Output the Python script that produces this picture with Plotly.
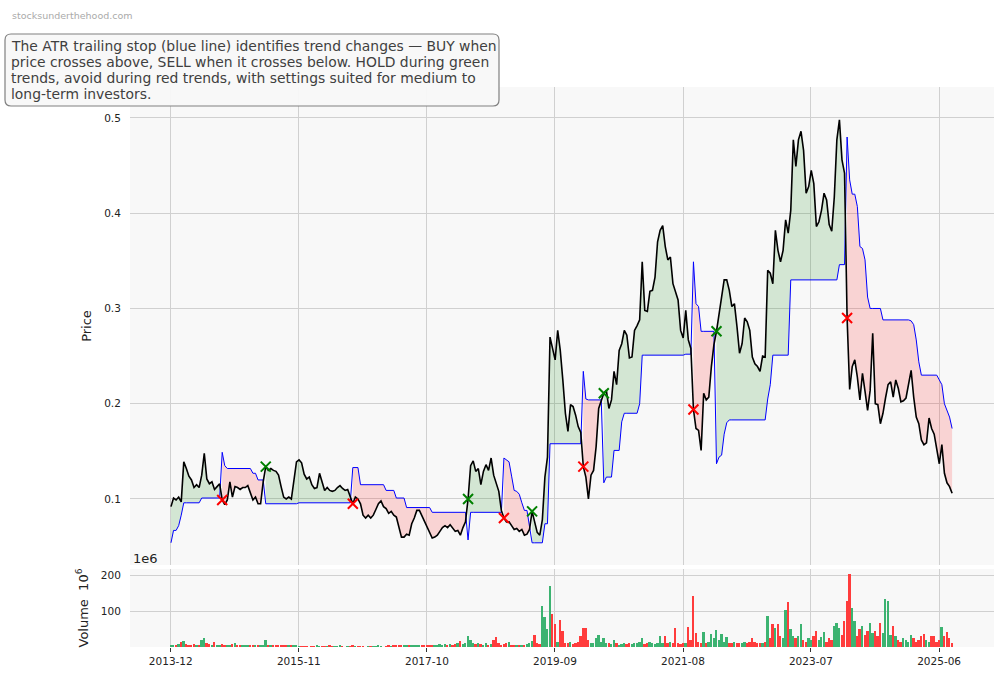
import pandas as pd
import plotly.graph_objects as go

# ---------------- data (bi-weekly closes) ----------------
start_date = "2013-12-02"
step = "14D"

price = [
    0.092, 0.101, 0.099, 0.102, 0.097, 0.139, 0.132, 0.124, 0.120, 0.112,
    0.115, 0.112, 0.125, 0.148, 0.121, 0.116, 0.118, 0.110, 0.113, 0.116,
    0.099, 0.094, 0.099, 0.118, 0.102, 0.113, 0.112, 0.110, 0.112, 0.112,
    0.114, 0.107, 0.099, 0.102, 0.095, 0.095, 0.118, 0.134, 0.130, 0.132,
    0.130, 0.129, 0.125, 0.113, 0.102, 0.100, 0.102, 0.100, 0.120, 0.139,
    0.141, 0.138, 0.126, 0.121, 0.123, 0.115, 0.111, 0.112, 0.127, 0.117,
    0.109, 0.112, 0.109, 0.108, 0.109, 0.112, 0.114, 0.111, 0.109, 0.110,
    0.102, 0.095, 0.102, 0.100, 0.095, 0.083, 0.080, 0.083, 0.080, 0.083,
    0.089, 0.095, 0.098, 0.092, 0.090, 0.085, 0.087, 0.083, 0.081, 0.071,
    0.060, 0.060, 0.063, 0.062, 0.074, 0.080, 0.088, 0.088, 0.082, 0.077,
    0.071, 0.064, 0.059, 0.060, 0.062, 0.066, 0.070, 0.072, 0.070, 0.073,
    0.069, 0.066, 0.067, 0.062, 0.070, 0.076, 0.100, 0.135, 0.140, 0.129,
    0.132, 0.115, 0.129, 0.136, 0.130, 0.143, 0.125, 0.115, 0.108, 0.088,
    0.080, 0.076, 0.076, 0.072, 0.068, 0.069, 0.066, 0.068, 0.062, 0.063,
    0.068, 0.087, 0.075, 0.065, 0.062, 0.078, 0.123, 0.144, 0.270, 0.258,
    0.246, 0.277, 0.256, 0.225, 0.190, 0.171, 0.199, 0.197, 0.188, 0.176,
    0.170, 0.134, 0.123, 0.100, 0.125, 0.130, 0.155, 0.195, 0.202, 0.211,
    0.214, 0.195, 0.204, 0.234, 0.220, 0.256, 0.263, 0.277, 0.272, 0.248,
    0.249, 0.277, 0.282, 0.288, 0.349, 0.298, 0.297, 0.318, 0.319, 0.333,
    0.370, 0.382, 0.387, 0.365, 0.351, 0.354, 0.326, 0.318, 0.309, 0.277,
    0.269, 0.298, 0.267, 0.258, 0.194, 0.174, 0.172, 0.151, 0.211, 0.204,
    0.207, 0.239, 0.262, 0.276, 0.295, 0.309, 0.330, 0.330, 0.319, 0.302,
    0.305, 0.281, 0.253, 0.263, 0.290, 0.286, 0.277, 0.249, 0.242, 0.239,
    0.234, 0.250, 0.249, 0.340, 0.337, 0.326, 0.382, 0.361, 0.349, 0.361,
    0.393, 0.379, 0.403, 0.477, 0.449, 0.477, 0.486, 0.466, 0.421, 0.428,
    0.445, 0.431, 0.386, 0.391, 0.403, 0.421, 0.414, 0.388, 0.381, 0.417,
    0.477, 0.498, 0.456, 0.442, 0.290, 0.215, 0.239, 0.246, 0.228, 0.204,
    0.232, 0.213, 0.193, 0.214, 0.274, 0.200, 0.199, 0.179, 0.190, 0.206,
    0.220, 0.223, 0.207, 0.225, 0.216, 0.202, 0.203, 0.206, 0.220, 0.235,
    0.207, 0.186, 0.179, 0.162, 0.157, 0.159, 0.185, 0.174, 0.168, 0.153,
    0.137, 0.157, 0.127, 0.117, 0.113, 0.106,
]

atr_stop = [
    0.054, 0.067, 0.067, 0.072, 0.083, 0.096, 0.096, 0.096, 0.096, 0.096,
    0.096, 0.096, 0.101, 0.101, 0.101, 0.101, 0.101, 0.101, 0.101, 0.101,
    0.149, 0.135, 0.132, 0.132, 0.132, 0.132, 0.132, 0.132, 0.132, 0.132,
    0.132, 0.132, 0.127, 0.127, 0.120, 0.120, 0.120, 0.095, 0.095, 0.095,
    0.095, 0.095, 0.095, 0.095, 0.095, 0.095, 0.095, 0.095, 0.095, 0.095,
    0.096, 0.096, 0.096, 0.096, 0.096, 0.096, 0.096, 0.096, 0.096, 0.096,
    0.096, 0.096, 0.096, 0.096, 0.096, 0.096, 0.096, 0.096, 0.096, 0.096,
    0.096, 0.133, 0.133, 0.133, 0.115, 0.115, 0.115, 0.115, 0.115, 0.115,
    0.115, 0.115, 0.115, 0.115, 0.109, 0.109, 0.109, 0.109, 0.101, 0.101,
    0.101, 0.101, 0.091, 0.091, 0.091, 0.091, 0.091, 0.091, 0.091, 0.091,
    0.091, 0.091, 0.086, 0.086, 0.086, 0.086, 0.086, 0.086, 0.086, 0.086,
    0.086, 0.086, 0.086, 0.086, 0.086, 0.086, 0.057, 0.086, 0.086, 0.086,
    0.086, 0.086, 0.086, 0.086, 0.086, 0.086, 0.086, 0.086, 0.086, 0.086,
    0.143, 0.141, 0.139, 0.124, 0.109, 0.108, 0.105, 0.096, 0.088, 0.088,
    0.071, 0.054, 0.054, 0.054, 0.054, 0.054, 0.074, 0.074, 0.158, 0.158,
    0.158, 0.158, 0.158, 0.158, 0.158, 0.158, 0.158, 0.158, 0.158, 0.158,
    0.158, 0.234, 0.205, 0.204, 0.204, 0.204, 0.204, 0.204, 0.204, 0.117,
    0.123, 0.123, 0.123, 0.151, 0.151, 0.151, 0.181, 0.190, 0.190, 0.190,
    0.190, 0.190, 0.190, 0.200, 0.251, 0.251, 0.251, 0.251, 0.251, 0.251,
    0.251, 0.251, 0.251, 0.251, 0.251, 0.251, 0.251, 0.251, 0.251, 0.251,
    0.251, 0.252, 0.252, 0.252, 0.349, 0.305, 0.302, 0.276, 0.276, 0.276,
    0.276, 0.276, 0.276, 0.137, 0.144, 0.146, 0.168, 0.180, 0.183, 0.183,
    0.183, 0.183, 0.183, 0.183, 0.183, 0.183, 0.183, 0.183, 0.183, 0.183,
    0.183, 0.183, 0.183, 0.205, 0.220, 0.251, 0.251, 0.251, 0.251, 0.251,
    0.251, 0.251, 0.330, 0.330, 0.330, 0.330, 0.330, 0.330, 0.330, 0.330,
    0.330, 0.330, 0.330, 0.330, 0.330, 0.330, 0.330, 0.330, 0.330, 0.330,
    0.330, 0.346, 0.346, 0.346, 0.480, 0.435, 0.420, 0.420, 0.407, 0.365,
    0.363, 0.351, 0.312, 0.300, 0.300, 0.300, 0.300, 0.300, 0.288, 0.288,
    0.288, 0.288, 0.288, 0.288, 0.288, 0.288, 0.288, 0.288, 0.288, 0.287,
    0.283, 0.267, 0.244, 0.230, 0.230, 0.230, 0.230, 0.230, 0.230, 0.230,
    0.225, 0.220, 0.200, 0.193, 0.186, 0.174,
]

volume_m = [
    3, 6, 5, 8, 14, 17, 9, 7, 6, 8,
    6, 5, 21, 26, 10, 8, 7, 13, 6, 5,
    9, 6, 5, 5, 9, 11, 4, 3, 4, 3,
    3, 4, 3, 4, 3, 3, 5, 20, 7, 3,
    3, 4, 3, 3, 4, 3, 3, 5, 7, 4,
    2, 1, 2, 1, 0, 1, 2, 3, 2, 1,
    2, 2, 3, 1, 2, 2, 3, 1, 0, 2,
    1, 3, 2, 2, 1, 2, 0, 2, 1, 2,
    2, 3, 1, 0, 2, 3, 2, 4, 3, 5,
    7, 4, 3, 5, 4, 6, 7, 5, 4, 6,
    5, 7, 4, 6, 5, 8, 6, 9, 7, 8,
    6, 9, 11, 17, 8, 12, 31, 20, 10, 8,
    12, 9, 6, 10, 7, 8, 21, 28, 12, 6,
    8, 10, 15, 6, 5, 4, 7, 6, 5, 8,
    12, 17, 34, 10, 8, 115, 84, 50, 171, 92,
    64, 15, 75, 45, 12, 10, 14, 8, 12, 15,
    31, 54, 52, 20, 12, 10, 24, 35, 15, 26,
    10, 12, 8, 19, 10, 6, 9, 12, 8, 10,
    8, 12, 10, 15, 24, 8, 10, 14, 10, 8,
    12, 31, 10, 31, 10, 14, 12, 54, 10, 8,
    10, 12, 56, 20, 143, 40, 15, 12, 43, 12,
    14, 37, 25, 48, 20, 37, 15, 28, 12, 10,
    15, 12, 10, 12, 14, 10, 15, 24, 15, 12,
    10, 12, 14, 87, 25, 64, 54, 64, 30, 25,
    103, 127, 50, 30, 25, 30, 64, 20, 15, 25,
    20, 30, 45, 20, 28, 43, 15, 25, 20, 59,
    67, 54, 35, 73, 129, 204, 110, 73, 30, 50,
    59, 35, 45, 68, 40, 45, 30, 68, 40, 134,
    129, 35, 59, 30, 20, 15, 25, 20, 15, 35,
    25, 15, 20, 30, 37, 20, 15, 30, 31, 15,
    20, 56, 30, 43, 25, 12,
]

buy_idx = [37, 116, 141, 169, 213]
sell_idx = [20, 71, 130, 161, 204, 264]

tick_dates = ["2013-12-01", "2015-11-01", "2017-10-01", "2019-09-01",
              "2021-08-01", "2023-07-01", "2025-06-01"]
tick_text = ["2013-12", "2015-11", "2017-10", "2019-09", "2021-08", "2023-07", "2025-06"]
price_ticks = [0.1, 0.2, 0.3, 0.4, 0.5]
vol_ticks = [100, 200]

title_lines = [
    "The ATR trailing stop (blue line) identifies trend changes \u2014 BUY when",
    "price crosses above, SELL when it crosses below. HOLD during green",
    "trends, avoid during red trends, with settings suited for medium to",
    "long-term investors.",
]
watermark = "stocksunderthehood.com"

# ---------------- figure ----------------
dates = pd.date_range(start_date, periods=len(price), freq=step)
n = len(price)
FONT = "DejaVu Sans"
GRID = "#d0d0d0"
BG = "#f8f8f8"

fig = go.Figure()

# fills between price and stop (contiguous runs, like fill_between(where=...))
above = [price[i] >= atr_stop[i] for i in range(n)]
i = 0
while i < n:
    j = i
    while j + 1 < n and above[j + 1] == above[i]:
        j += 1
    xs = list(dates[i:j + 1]) + list(dates[i:j + 1])[::-1]
    ys = price[i:j + 1] + atr_stop[i:j + 1][::-1]
    fig.add_trace(go.Scatter(
        x=xs, y=ys, fill="toself", mode="lines", line=dict(width=0),
        fillcolor="rgba(0,128,0,0.15)" if above[i] else "rgba(255,0,0,0.15)",
        hoverinfo="skip", showlegend=False, xaxis="x", yaxis="y"))
    i = j + 1

fig.add_trace(go.Scatter(x=dates, y=atr_stop, mode="lines",
                         line=dict(color="#0000ff", width=1),
                         showlegend=False, xaxis="x", yaxis="y"))
fig.add_trace(go.Scatter(x=dates, y=price, mode="lines",
                         line=dict(color="black", width=1.6),
                         showlegend=False, xaxis="x", yaxis="y"))
fig.add_trace(go.Scatter(x=[dates[k] for k in buy_idx], y=[price[k] for k in buy_idx],
                         mode="markers",
                         marker=dict(symbol="x-thin", size=10,
                                     line=dict(color="green", width=2)),
                         showlegend=False, xaxis="x", yaxis="y"))
fig.add_trace(go.Scatter(x=[dates[k] for k in sell_idx], y=[price[k] for k in sell_idx],
                         mode="markers",
                         marker=dict(symbol="x-thin", size=10,
                                     line=dict(color="red", width=2)),
                         showlegend=False, xaxis="x", yaxis="y"))

# volume bars
vol = [v * 1e6 for v in volume_m]
vcolors = ["rgba(60,179,113,1)" if (k == 0 or price[k] >= price[k - 1]) else "rgba(255,60,60,1)"
           for k in range(n)]
fig.add_trace(go.Bar(x=dates, y=vol, marker=dict(color=vcolors, line=dict(width=0)),
                     width=10 * 24 * 3600 * 1000, showlegend=False,
                     xaxis="x2", yaxis="y2"))

# layout geometry (pixels)
W, H = 1004, 678
L, R, T, B = 130, 10, 87, 31
pw, ph = W - L - R, H - T - B


def px_x(px):
    return (px - L) / pw


def px_y(py):
    return (H - B - py) / ph


xr = ["2013-04-22", "2026-03-28"]
common_x = dict(range=xr, type="date", tickvals=tick_dates, ticktext=tick_text,
                showgrid=True, gridcolor=GRID, gridwidth=1, zeroline=False,
                showline=False)

fig.update_layout(
    width=W, height=H,
    margin=dict(l=L, r=R, t=T, b=B),
    paper_bgcolor="white", plot_bgcolor=BG,
    font=dict(family=FONT, size=10.5, color="#222"),
    bargap=0,
    xaxis=dict(**common_x, anchor="y", domain=[0, 1], showticklabels=False, ticks=""),
    yaxis=dict(domain=[px_y(565), 1], range=[0.0307, 0.5325], tickvals=price_ticks,
               ticktext=["0.1", "0.2", "0.3", "0.4", "0.5"],
               showgrid=True, gridcolor=GRID, zeroline=False,
               ticks="outside", ticklen=6, tickcolor="rgba(0,0,0,0)",
               title=dict(text="Price", font=dict(size=13, color="#222"), standoff=9)),
    xaxis2=dict(**common_x, anchor="y2", domain=[0, 1], matches="x",
                ticks="outside", ticklen=4, tickcolor="#333",
                tickfont=dict(size=10.5)),
    yaxis2=dict(domain=[0, px_y(569)], range=[0, 219e6],
                tickvals=[v * 1e6 for v in vol_ticks], ticktext=[str(v) for v in vol_ticks],
                showgrid=True, gridcolor=GRID, zeroline=False,
                ticks="outside", ticklen=6, tickcolor="rgba(0,0,0,0)",
                title=dict(text="Volume  10<sup>6</sup>", font=dict(size=13, color="#222"),
                           standoff=9)),
)

# rounded title box
x0, x1 = px_x(5), px_x(499)
y0, y1 = px_y(106), px_y(34)
rx, ry = 6 / pw, 6 / ph
path = (f"M {x0+rx},{y1} L {x1-rx},{y1} Q {x1},{y1} {x1},{y1-ry} "
        f"L {x1},{y0+ry} Q {x1},{y0} {x1-rx},{y0} "
        f"L {x0+rx},{y0} Q {x0},{y0} {x0},{y0+ry} "
        f"L {x0},{y1-ry} Q {x0},{y1} {x0+rx},{y1} Z")
fig.add_shape(type="path", path=path, xref="paper", yref="paper",
              line=dict(color="#808080", width=1.2), fillcolor="rgba(248,248,248,0.95)",
              layer="above")

for k, line in enumerate(title_lines):
    fig.add_annotation(text=line, xref="paper", yref="paper",
                       x=px_x(9), y=px_y(46 + 16 * k), xanchor="left", yanchor="middle",
                       align="left", showarrow=False,
                       font=dict(family=FONT, size=13.9, color="#404040"))
fig.add_annotation(text=watermark, xref="paper", yref="paper",
                   x=px_x(10), y=px_y(15), xanchor="left", yanchor="middle",
                   showarrow=False, font=dict(family=FONT, size=9.5, color="#aaaaaa"))
fig.add_annotation(text="1e6", xref="paper", yref="paper",
                   x=px_x(131), y=px_y(558), xanchor="left", yanchor="middle",
                   showarrow=False, font=dict(family=FONT, size=13, color="#222"))

fig.write_html("out.html", config={"displayModeBar": False},
               post_script="document.body.style.margin='0';")
